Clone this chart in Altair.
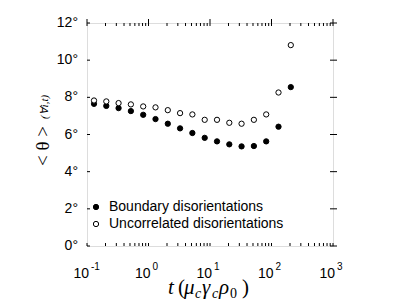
import altair as alt
import pandas as pd

# ---- data ----
t_values = [0.13, 0.206, 0.326, 0.517, 0.82, 1.3, 2.06, 3.26, 5.17, 8.2,
            13.0, 20.6, 32.6, 51.7, 82.0, 130.0, 206.0]
boundary = [7.65, 7.54, 7.42, 7.26, 7.06, 6.83, 6.58, 6.33, 6.08, 5.82,
            5.63, 5.47, 5.36, 5.38, 5.63, 6.42, 8.55]
uncorrelated = [7.83, 7.78, 7.69, 7.62, 7.51, 7.46, 7.31, 7.15, 7.08, 6.79,
                6.79, 6.63, 6.58, 6.79, 7.08, 8.26, 10.81]
series_names = ["Boundary disorientations", "Uncorrelated disorientations"]

x_major = [0.1, 1, 10, 100, 1000]
x_exponents = ["-1", "0", "1", "2", "3"]
x_minor = [m * d for d in [0.1, 1, 10, 100] for m in range(2, 10)]
y_major = [0, 2, 4, 6, 8, 10, 12]
y_labels = ["0\u00b0", "2\u00b0", "4\u00b0", "6\u00b0", "8\u00b0", "10\u00b0", "12\u00b0"]

W, H = 246, 223
LEFT, TOP = 79, 15  # padding -> plot origin at page (87, 23)

df = pd.DataFrame({
    "t": t_values * 2,
    "theta": boundary + uncorrelated,
    "series": [series_names[0]] * len(t_values) + [series_names[1]] * len(t_values),
})

xscale = alt.Scale(type="log", domain=[0.1, 1000], nice=False)
yscale = alt.Scale(domain=[0, 12], nice=False)

xaxis = alt.Axis(values=x_major, labels=False, title="", grid=False,
                 tickSize=4, domainColor="black", tickColor="black")
yaxis = alt.Axis(values=y_major, labels=False, title="", grid=False, tickSize=4,
                 domainColor="black", tickColor="black")

points = alt.Chart(df).mark_point(filled=True, shape="circle", size=28, stroke="black",
                                  strokeWidth=1, opacity=1).encode(
    x=alt.X("t:Q", scale=xscale, axis=xaxis),
    y=alt.Y("theta:Q", scale=yscale, axis=yaxis),
    fill=alt.Fill("series:N", scale=alt.Scale(domain=series_names, range=["black", "white"]),
                  legend=alt.Legend(title="", orient="none", legendX=2, legendY=177,
                                    symbolType="circle", symbolSize=28,
                                    symbolStrokeColor="black", symbolStrokeWidth=1,
                                    labelFont="Liberation Sans", labelFontSize=14,
                                    labelColor="black", rowPadding=3, padding=0,
                                    labelOffset=6, labelLimit=400)),
)

# x tick labels: "10" with superscript exponent
xl = pd.DataFrame({"v": x_major, "e": x_exponents})
lab_base = alt.Chart(xl).mark_text(text="10", font="Liberation Sans", fontSize=14,
                                   align="right", baseline="alphabetic", dx=2,
                                   color="black").encode(
    x=alt.X("v:Q", scale=xscale, axis=None), y=alt.value(H + 32))
lab_exp = alt.Chart(xl).mark_text(font="Liberation Sans", fontSize=10, align="left",
                                  baseline="alphabetic", dx=4, color="black").encode(
    x=alt.X("v:Q", scale=xscale, axis=None), y=alt.value(H + 24), text="e:N")

# y tick labels
yl = pd.DataFrame({"v": y_major, "lab": y_labels})
lab_y = alt.Chart(yl).mark_text(font="Liberation Sans", fontSize=14, align="right",
                                baseline="middle", color="black").encode(
    y=alt.Y("v:Q", scale=yscale, axis=None), x=alt.value(-9), text="lab:N")

# ticks: inward (all) and outward on top/right (majors)
xt = pd.DataFrame({"v": x_major + x_minor})
xm = pd.DataFrame({"v": x_major})
yt = pd.DataFrame({"v": y_major})
rule = dict(color="black", strokeWidth=1)
tick_bottom = alt.Chart(xt).mark_rule(**rule).encode(
    x=alt.X("v:Q", scale=xscale, axis=None), y=alt.value(H), y2=alt.value(H - 3))
tick_top = alt.Chart(xt).mark_rule(**rule).encode(
    x=alt.X("v:Q", scale=xscale, axis=None), y=alt.value(0), y2=alt.value(3))
tick_top_out = alt.Chart(xm).mark_rule(**rule).encode(
    x=alt.X("v:Q", scale=xscale, axis=None), y=alt.value(-4), y2=alt.value(0))
tick_left = alt.Chart(yt).mark_rule(**rule).encode(
    y=alt.Y("v:Q", scale=yscale, axis=None), x=alt.value(0), x2=alt.value(3))
tick_right = alt.Chart(yt).mark_rule(**rule).encode(
    y=alt.Y("v:Q", scale=yscale, axis=None), x=alt.value(W - 3), x2=alt.value(W + 4))

one = pd.DataFrame({"a": [0]})
OX, OY = 87, 23
serif = "Liberation Serif"
pieces = [
    ("t", 168, 294, 21, "italic"), ("(", 178, 294, 21, "normal"),
    ("\u03bc", 184, 294, 21, "italic"), ("c", 195, 298, 14, "italic"),
    ("\u03b3", 202, 294, 21, "italic"), ("c", 212, 298, 14, "italic"),
    ("\u03c1", 219, 294, 21, "italic"), ("0", 230, 298, 14, "normal"),
    (")", 242, 294, 21, "normal"),
]
title_layers = []
for txt, px, py, fs, st in pieces:
    title_layers.append(alt.Chart(one).mark_text(
        text=txt, font=serif, fontSize=fs, fontStyle=st, align="left",
        baseline="alphabetic", color="black").encode(
        x=alt.value(px - OX), y=alt.value(py - OY)))

title_layers.append(alt.Chart(one).mark_text(
    text="< \u03b8 >", font=serif, fontSize=19, angle=270, align="center",
    baseline="middle", color="black").encode(x=alt.value(43 - OX), y=alt.value(146 - OY)))
title_layers.append(alt.Chart(one).mark_text(
    text="(\u2200i,t)", font=serif, fontSize=11, fontStyle="italic", angle=270,
    align="center", baseline="middle", color="black").encode(
    x=alt.value(45 - OX), y=alt.value(107 - OY)))

chart = alt.layer(tick_bottom, tick_top, tick_top_out, tick_left, tick_right, points,
                  lab_base, lab_exp, lab_y, *title_layers).properties(
    width=W, height=H,
    autosize=alt.AutoSizeParams(type="none"),
    padding={"left": LEFT, "top": TOP, "right": 391 - LEFT - W, "bottom": 62},
).configure_view(stroke="black", strokeWidth=1).configure(background="white")

chart.save("out.html", embed_options={"renderer": "svg", "actions": False})
